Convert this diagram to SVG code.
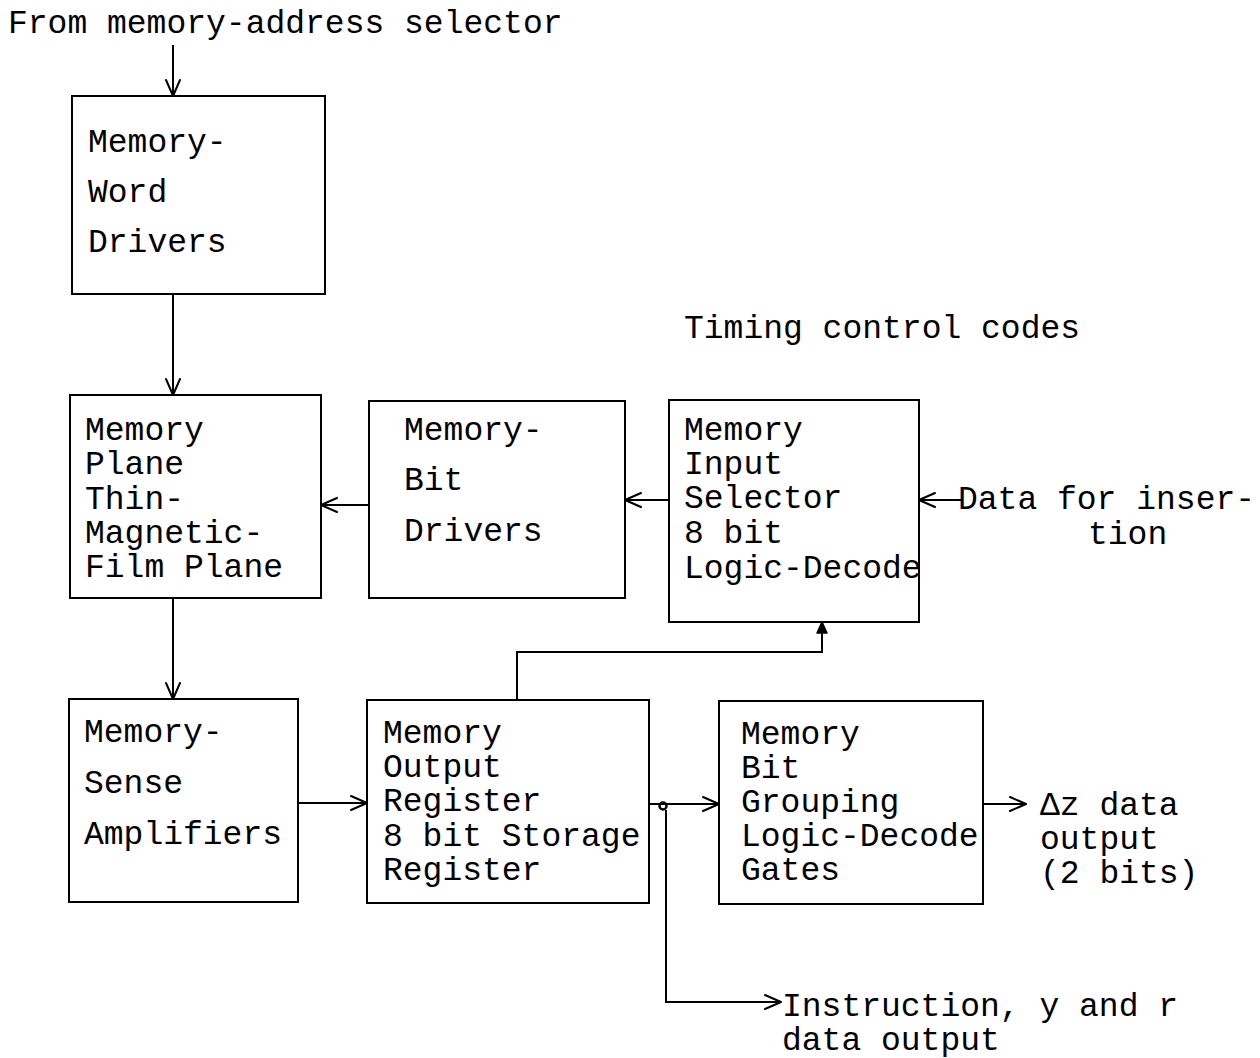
<svg xmlns="http://www.w3.org/2000/svg" width="1260" height="1058" viewBox="0 0 1260 1058">
  <style>
    text { font-family: "Liberation Mono", "Courier New", monospace; font-size: 33px; fill: #000; }
    .box { fill: none; stroke: #000; stroke-width: 2; }
    .wire { fill: none; stroke: #000; stroke-width: 2; }
  </style>
  <defs>
    <marker id="arrow" viewBox="0 0 20 20" refX="18" refY="10" markerWidth="20" markerHeight="20" markerUnits="userSpaceOnUse" orient="auto">
      <path d="M2,3 L18,10 L2,17" fill="none" stroke="#000" stroke-width="2" stroke-linecap="round" stroke-linejoin="round"/>
    </marker>
    <marker id="arrowSmall" viewBox="0 0 14 14" refX="13" refY="7" markerWidth="14" markerHeight="14" markerUnits="userSpaceOnUse" orient="auto">
      <path d="M2,2 L13,7 L2,12 Z" fill="#000" stroke="#000" stroke-width="1.5" stroke-linejoin="round"/>
    </marker>
  </defs>

  <rect width="1260" height="1058" fill="#fff"/>

  <!-- free labels -->
  <g id="labels">
    <text x="8" y="33">From memory-address selector</text>
    <text x="684" y="338">Timing control codes</text>
    <text x="958" y="509">Data for inser-</text>
    <text x="1088" y="544">tion</text>
    <text x="1040" y="815">Δz data</text>
    <text x="1040" y="849">output</text>
    <text x="1040" y="883">(2 bits)</text>
    <text x="782" y="1016">Instruction, y and r</text>
    <text x="782" y="1050">data output</text>
  </g>

  <g id="word-drivers">
    <rect class="box" x="72" y="96" width="253" height="198"/>
    <text x="88" y="152">Memory-</text>
    <text x="88" y="202">Word</text>
    <text x="88" y="252">Drivers</text>
  </g>

  <g id="memory-plane">
    <rect class="box" x="70" y="395" width="251" height="203"/>
    <text x="85" y="440">Memory</text>
    <text x="85" y="474">Plane</text>
    <text x="85" y="509">Thin-</text>
    <text x="85" y="543">Magnetic-</text>
    <text x="85" y="577">Film Plane</text>
  </g>

  <g id="bit-drivers">
    <rect class="box" x="369" y="401" width="256" height="197"/>
    <text x="404" y="440">Memory-</text>
    <text x="404" y="490">Bit</text>
    <text x="404" y="541">Drivers</text>
  </g>

  <g id="input-selector">
    <rect class="box" x="669" y="400" width="250" height="222"/>
    <text x="684" y="440">Memory</text>
    <text x="684" y="474">Input</text>
    <text x="684" y="508">Selector</text>
    <text x="684" y="543">8 bit</text>
    <text x="684" y="578">Logic-Decode</text>
  </g>

  <g id="sense-amplifiers">
    <rect class="box" x="69" y="699" width="229" height="203"/>
    <text x="84" y="742">Memory-</text>
    <text x="84" y="793">Sense</text>
    <text x="84" y="844">Amplifiers</text>
  </g>

  <g id="output-register">
    <rect class="box" x="367" y="700" width="282" height="203"/>
    <text x="383" y="743">Memory</text>
    <text x="383" y="777">Output</text>
    <text x="383" y="811">Register</text>
    <text x="383" y="846">8 bit Storage</text>
    <text x="383" y="880">Register</text>
  </g>

  <g id="bit-grouping">
    <rect class="box" x="719" y="701" width="264" height="203"/>
    <text x="741" y="744">Memory</text>
    <text x="741" y="778">Bit</text>
    <text x="741" y="812">Grouping</text>
    <text x="741" y="846">Logic-Decode</text>
    <text x="741" y="880">Gates</text>
  </g>

  <g id="connectors">
    <line class="wire" x1="173" y1="45" x2="173" y2="96" marker-end="url(#arrow)"/>
    <line class="wire" x1="173" y1="294" x2="173" y2="395" marker-end="url(#arrow)"/>
    <line class="wire" x1="173" y1="598" x2="173" y2="699" marker-end="url(#arrow)"/>
    <line class="wire" x1="369" y1="505" x2="321" y2="505" marker-end="url(#arrow)"/>
    <line class="wire" x1="669" y1="500" x2="625" y2="500" marker-end="url(#arrow)"/>
    <line class="wire" x1="962" y1="500" x2="919" y2="500" marker-end="url(#arrow)"/>
    <line class="wire" x1="298" y1="803" x2="367" y2="803" marker-end="url(#arrow)"/>
    <polyline class="wire" points="517,700 517,652 822,652 822,622" marker-end="url(#arrowSmall)"/>
    <line class="wire" x1="649" y1="804" x2="719" y2="804" marker-end="url(#arrow)"/>
    <circle cx="663" cy="806" r="3.5" fill="none" stroke="#000" stroke-width="2.5"/>
    <polyline class="wire" points="666,810 666,1002 781,1002" marker-end="url(#arrow)"/>
    <line class="wire" x1="983" y1="804" x2="1026" y2="804" marker-end="url(#arrow)"/>
  </g>
</svg>
